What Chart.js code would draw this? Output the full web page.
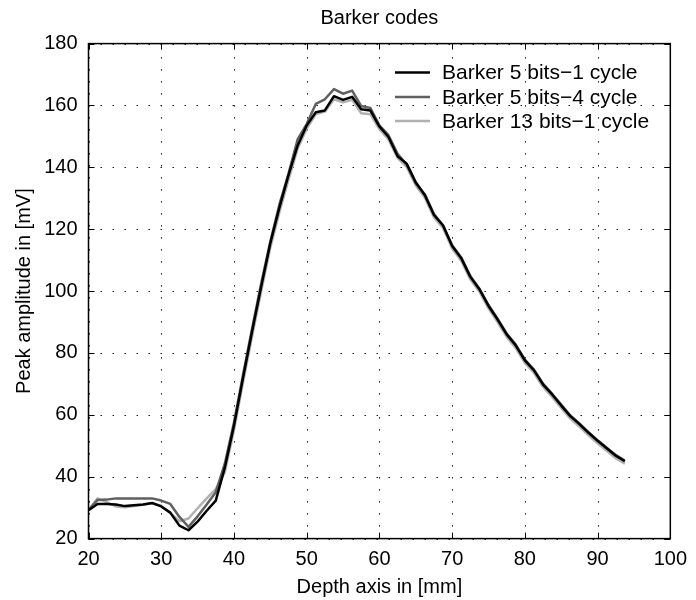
<!DOCTYPE html>
<html><head><meta charset="utf-8">
<script src="https://cdn.jsdelivr.net/npm/chart.js@4"></script>
<style>html,body{margin:0;padding:0;background:#fff}</style>
</head><body>
<canvas id="c" width="696" height="600"></canvas>
<script>
// ---- data ----
const depthMm = [20, 21.25, 22.5, 23.75, 25, 26.25, 27.5, 28.75, 30, 31.25, 32.5, 33.75, 35, 36.25, 37.5, 38.75, 40, 41.25, 42.5, 43.75, 45, 46.25, 47.5, 48.75, 50, 51.25, 52.5, 53.75, 55, 56.25, 57.5, 58.75, 60, 61.25, 62.5, 63.75, 65, 66.25, 67.5, 68.75, 70, 71.25, 72.5, 73.75, 75, 76.25, 77.5, 78.75, 80, 81.25, 82.5, 83.75, 85, 86.25, 87.5, 88.75, 90, 91.25, 92.5, 93.75];
const barker5_1 = [29.2, 31.2, 31.2, 31.0, 30.5, 30.8, 31.0, 31.5, 30.4, 28.4, 24.2, 22.7, 25.5, 29.0, 32.3, 43.0, 56.5, 72.0, 87.0, 101.5, 115.5, 127.0, 137.5, 147.0, 153.5, 157.8, 158.4, 163.0, 161.8, 162.8, 158.8, 158.4, 153.2, 149.8, 143.6, 141.2, 135.2, 131.0, 124.6, 121.2, 114.6, 110.6, 104.6, 100.6, 95.2, 90.8, 86.0, 82.4, 77.6, 74.4, 69.8, 66.6, 63.0, 59.6, 57.0, 54.2, 51.6, 49.2, 46.8, 45.0];
const barker5_4 = [29.2, 32.5, 32.6, 33.0, 33.0, 33.0, 33.0, 33.0, 32.3, 31.2, 27.0, 23.8, 27.2, 31.0, 35.0, 44.3, 57.5, 73.0, 88.0, 102.5, 116.0, 128.0, 138.0, 149.0, 154.0, 160.5, 162.0, 165.3, 163.8, 164.8, 159.8, 159.2, 153.6, 150.4, 144.4, 140.8, 134.8, 131.3, 124.9, 121.3, 114.8, 110.9, 104.9, 100.8, 95.5, 91.1, 86.3, 82.7, 77.9, 74.6, 70.1, 66.8, 63.3, 59.8, 57.2, 54.4, 51.8, 49.4, 47.0, 45.2];
const barker13_1 = [29.2, 33.0, 31.8, 30.4, 30.1, 30.5, 30.9, 31.4, 30.6, 28.2, 25.6, 26.5, 29.8, 33.0, 36.0, 41.5, 55.0, 70.5, 85.5, 100.0, 114.0, 125.5, 136.0, 146.0, 152.5, 157.2, 158.0, 162.0, 161.0, 161.8, 157.5, 157.2, 152.4, 149.0, 143.0, 140.2, 134.2, 130.2, 123.8, 120.4, 113.8, 109.8, 103.8, 99.8, 94.4, 90.0, 85.2, 81.6, 76.8, 73.6, 69.0, 65.8, 62.2, 58.8, 56.2, 53.4, 50.8, 48.4, 46.0, 44.2];
const seriesNames = ['Barker 5 bits\u22121 cycle', 'Barker 5 bits\u22124 cycle', 'Barker 13 bits\u22121 cycle'];
const xTicks = [20, 30, 40, 50, 60, 70, 80, 90, 100];
const yTicks = [20, 40, 60, 80, 100, 120, 140, 160, 180];

const FONT = '"Liberation Sans", Arial, Helvetica, sans-serif';
const FS = 20;
const colors = ['#000000', '#606060', '#b0b0b0'];
const pts = ys => depthMm.map((x, i) => ({x: x, y: ys[i]}));

const matlabAxes = {
  id: 'matlabAxes',
  beforeDatasetsDraw(chart) {
    const {ctx, chartArea: a, scales: {x, y}} = chart;
    ctx.save();
    ctx.strokeStyle = '#222';
    ctx.lineWidth = 1;
    ctx.setLineDash([1.5, 10.5]);
    xTicks.forEach(v => {
      const px = Math.round(x.getPixelForValue(v)) + 0.5;
      ctx.beginPath(); ctx.moveTo(px, a.bottom); ctx.lineTo(px, a.top); ctx.stroke();
    });
    yTicks.forEach(v => {
      const py = Math.round(y.getPixelForValue(v)) + 0.5;
      ctx.beginPath(); ctx.moveTo(a.left, py); ctx.lineTo(a.right, py); ctx.stroke();
    });
    ctx.restore();
  },
  afterDatasetsDraw(chart) {
    const {ctx, chartArea: a, scales: {x, y}} = chart;
    ctx.save();
    ctx.setLineDash([]);
    ctx.strokeStyle = '#000';
    ctx.lineWidth = 1.5;
    ctx.strokeRect(a.left, a.top, a.right - a.left, a.bottom - a.top);
    const tl = 6;
    ctx.lineWidth = 1;
    xTicks.forEach(v => {
      const px = Math.round(x.getPixelForValue(v)) + 0.5;
      ctx.beginPath();
      ctx.moveTo(px, a.bottom); ctx.lineTo(px, a.bottom - tl);
      ctx.moveTo(px, a.top); ctx.lineTo(px, a.top + tl);
      ctx.stroke();
    });
    yTicks.forEach(v => {
      const py = Math.round(y.getPixelForValue(v)) + 0.5;
      ctx.beginPath();
      ctx.moveTo(a.left, py); ctx.lineTo(a.left + tl, py);
      ctx.moveTo(a.right, py); ctx.lineTo(a.right - tl, py);
      ctx.stroke();
    });
    // legend
    const rows = [72.5, 97, 121];
    ctx.font = '21px ' + FONT;
    ctx.textBaseline = 'middle';
    ctx.textAlign = 'left';
    chart.data.datasets.forEach((ds, i) => {
      ctx.strokeStyle = ds.borderColor;
      ctx.lineWidth = 2.5;
      ctx.beginPath(); ctx.moveTo(395, rows[i]); ctx.lineTo(430, rows[i]); ctx.stroke();
      ctx.fillStyle = '#000';
      ctx.fillText(ds.label, 442, rows[i] + 1);
    });
    ctx.restore();
  }
};

new Chart(document.getElementById('c'), {
  type: 'line',
  data: {
    datasets: [
      {label: seriesNames[0], data: pts(barker5_1), borderColor: colors[0]},
      {label: seriesNames[1], data: pts(barker5_4), borderColor: colors[1]},
      {label: seriesNames[2], data: pts(barker13_1), borderColor: colors[2]}
    ].map(d => Object.assign(d, {borderWidth: 2.5, pointRadius: 0, tension: 0, fill: false, borderJoinStyle: 'round'}))
  },
  options: {
    responsive: false,
    animation: false,
    devicePixelRatio: 1,
    layout: {padding: {left: 0, right: 19, top: 0, bottom: 0}},
    plugins: {
      legend: {display: false},
      tooltip: {enabled: false},
      title: {display: true, text: 'Barker codes', color: '#000', fullSize: false,
        font: {family: FONT, size: FS, weight: 'normal'}, padding: {top: 6, bottom: 13.6}}
    },
    scales: {
      x: {
        type: 'linear', min: 20, max: 100,
        afterBuildTicks(s) { s.ticks = xTicks.map(v => ({value: v})); },
        ticks: {color: '#000', font: {family: FONT, size: FS}, padding: 9, maxRotation: 0, autoSkip: false},
        grid: {display: false, drawTicks: false},
        border: {display: false},
        title: {display: true, text: 'Depth axis in [mm]', color: '#000', font: {family: FONT, size: FS}, padding: {top: 0, bottom: 1}},
        afterFit(s) { s.height = 61.4; }
      },
      y: {
        type: 'linear', min: 20, max: 180,
        afterBuildTicks(s) { s.ticks = yTicks.map(v => ({value: v})); },
        ticks: {color: '#000', font: {family: FONT, size: FS}, padding: 11},
        grid: {display: false, drawTicks: false},
        border: {display: false},
        title: {display: true, text: 'Peak amplitude in [mV]', color: '#000', font: {family: FONT, size: FS}, padding: {top: 12, bottom: 0}},
        afterFit(s) { s.width = 88.5; }
      }
    }
  },
  plugins: [matlabAxes]
});
</script>
</body></html>
